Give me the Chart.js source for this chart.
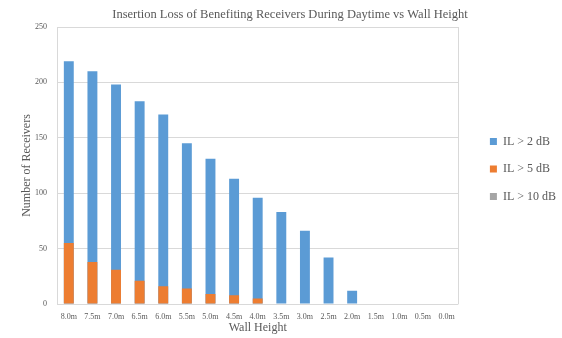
<!DOCTYPE html>
<html>
<head>
<meta charset="utf-8">
<script src="https://cdn.jsdelivr.net/npm/chart.js@4"></script>
<style>
  html, body { margin: 0; padding: 0; background: #fff; }
  #wrap { width: 562px; height: 338px; }
</style>
</head>
<body>
<div id="wrap"><canvas id="ilChart"></canvas></div>
<script>
const wallHeights = ['8.0m', '7.5m', '7.0m', '6.5m', '6.0m', '5.5m', '5.0m', '4.5m', '4.0m',
    '3.5m', '3.0m', '2.5m', '2.0m', '1.5m', '1.0m', '0.5m', '0.0m'];
const ilOver2 = [219, 210, 198, 183, 171, 145, 131, 113, 96, 83, 66, 42, 12, 0, 0, 0, 0];
const ilOver5 = [55, 38, 31, 21, 16, 14, 9, 8, 5, 0, 0, 0, 0, 0, 0, 0, 0];
const ilOver10 = [0, 0, 0, 0, 0, 0, 0, 0, 0, 0, 0, 0, 0, 0, 0, 0, 0];

const serif = "'Liberation Serif', 'Times New Roman', serif";
const textColor = '#595959';
const gridColor = '#d9d9d9';

// thin frame line on the right edge of the plot area
const plotFrame = {
    id: 'plotFrame',
    beforeDatasetsDraw(chart) {
        const { ctx, chartArea: a } = chart;
        ctx.save();
        ctx.strokeStyle = gridColor;
        ctx.lineWidth = 1;
        ctx.beginPath();
        ctx.moveTo(Math.round(a.right) + 0.5, a.top);
        ctx.lineTo(Math.round(a.right) + 0.5, a.bottom);
        ctx.stroke();
        ctx.restore();
    }
};

// small offsets for the legend and title boxes
const boxNudge = {
    id: 'boxNudge',
    afterLayout(chart) {
        const lg = chart.legend;
        if (lg) {
            lg.left += 16;
            lg.right += 16;
            lg.top -= 2;
            lg.bottom -= 2;
        }
        const tb = chart.titleBlock;
        if (tb) {
            tb.left += 5;
            tb.right += 5;
        }
    }
};

new Chart(document.getElementById('ilChart'), {
    type: 'bar',
    data: {
        labels: wallHeights,
        datasets: [
            { label: 'IL > 2 dB', data: ilOver2, backgroundColor: '#5b9bd5', order: 3 },
            { label: 'IL > 5 dB', data: ilOver5, backgroundColor: '#ed7d31', order: 2 },
            { label: 'IL > 10 dB', data: ilOver10, backgroundColor: '#a5a5a5', order: 1 }
        ]
    },
    options: {
        responsive: true,
        maintainAspectRatio: false,
        animation: false,
        datasets: {
            bar: { barPercentage: 0.42, categoryPercentage: 1 }
        },
        layout: { padding: { top: 7, left: 20, right: 12, bottom: 3 } },
        plugins: {
            title: {
                display: true,
                text: 'Insertion Loss of Benefiting Receivers During Daytime vs Wall Height',
                color: textColor,
                font: { family: serif, size: 12.5, weight: 'normal' },
                padding: { top: 0, bottom: 5 }
            },
            legend: {
                position: 'right',
                labels: {
                    color: textColor,
                    font: { family: serif, size: 12 },
                    boxWidth: 7,
                    boxHeight: 7,
                    padding: 15.5,
                    sort: (a, b) => a.datasetIndex - b.datasetIndex
                }
            },
            tooltip: { enabled: false }
        },
        scales: {
            x: {
                stacked: true,
                grid: { display: false, drawTicks: false },
                border: { display: false },
                ticks: { color: textColor, font: { family: serif, size: 8 }, maxRotation: 0, autoSkip: false, padding: 8 },
                title: {
                    display: true,
                    text: 'Wall Height',
                    color: textColor,
                    font: { family: serif, size: 12 },
                    padding: { top: 0, bottom: 0 }
                },
                afterFit: (s) => { s.height = 31; }
            },
            y: {
                stacked: false,
                min: 0,
                max: 250,
                ticks: { stepSize: 50, color: textColor, font: { family: serif, size: 8 }, padding: 10 },
                grid: { color: gridColor, drawTicks: false },
                border: { color: gridColor },
                title: {
                    display: true,
                    text: 'Number of Receivers',
                    color: textColor,
                    font: { family: serif, size: 12 },
                    padding: { top: 0, bottom: 1 }
                },
                afterFit: (s) => { s.width = 37; }
            }
        }
    },
    plugins: [plotFrame, boxNudge]
});
</script>
</body>
</html>
